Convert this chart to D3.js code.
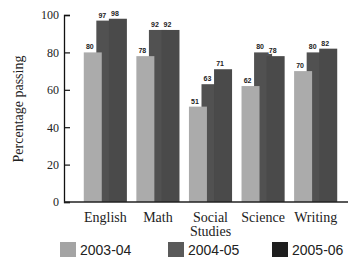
<!DOCTYPE html>
<html>
<head>
<meta charset="utf-8">
<script src="https://cdn.jsdelivr.net/npm/d3@7"></script>
<style>
  body { margin: 0; background: #fff; }
  svg { display: block; }
</style>
</head>
<body>
<div id="chart"></div>
<script>
// data
const subjects = ["English", "Math", "Social Studies", "Science", "Writing"];
const years = ["2003-04", "2004-05", "2005-06"];
const pass0304 = [80, 78, 51, 62, 70];
const pass0405 = [97, 92, 63, 80, 80];
const pass0506 = [98, 92, 71, 78, 82];
const yTicks = [0, 20, 40, 60, 80, 100];

const barColors = ["#ababab", "#515151", "#4a4a4a"];
const swatchColors = ["#a4a4a4", "#5a5a5a", "#1e1e1e"];

const width = 348, height = 264;
const serif = "'Liberation Serif', 'DejaVu Serif', serif";
const sans = "'Liberation Sans', Arial, sans-serif";

const series = [pass0304, pass0405, pass0506];
let rows = [];
subjects.forEach((s, i) => {
    years.forEach((yr, j) => {
        rows.push({ subject: s, year: yr, k: j, value: series[j][i] });
    });
});

const svg = d3.select("#chart").append("svg")
    .attr("width", width)
    .attr("height", height);

const x = d3.scaleBand()
    .domain(subjects)
    .range([68, 353])
    .paddingInner(0.18)
    .paddingOuter(0.3);

const y = d3.scaleLinear()
    .domain([0, 100])
    .range([202, 15]);

// bars overlap a little inside each group
const barW = 18;
const xs = d3.scalePoint()
    .domain(years)
    .range([0, x.bandwidth() - barW]);

// draw middle series first so the outer ones sit over it
const drawOrder = [1, 2, 0];
let bars = svg.append("g");
drawOrder.forEach(k => {
    bars.selectAll(".bar-" + k)
        .data(rows.filter(d => d.k === k))
        .enter().append("rect")
        .attr("class", "bar-" + k)
        .attr("x", d => x(d.subject) + xs(d.year))
        .attr("y", d => y(d.value))
        .attr("width", barW)
        .attr("height", d => y(0) - y(d.value))
        .attr("fill", barColors[k]);
});

// value labels
svg.append("g").selectAll("text")
    .data(rows)
    .enter().append("text")
    .attr("x", d => x(d.subject) + xs(d.year) + barW / 2 - 3)
    .attr("y", d => y(d.value) - 3)
    .attr("text-anchor", "middle")
    .attr("font-family", sans)
    .attr("font-size", 7)
    .attr("font-weight", "bold")
    .attr("fill", "#222")
    .attr("stroke", "#fff")
    .attr("stroke-width", 2)
    .attr("paint-order", "stroke")
    .text(d => d.value);

// y axis, ticks pointing inward
let yAxis = svg.append("g")
    .attr("transform", "translate(64,0)")
    .call(d3.axisLeft(y).tickValues(yTicks).tickSize(-6).tickPadding(5));
yAxis.select(".domain").attr("stroke", "#111").attr("stroke-width", 1.3);
yAxis.selectAll(".tick line").attr("stroke", "#111").attr("stroke-width", 1.2);
yAxis.selectAll(".tick text")
    .attr("font-family", serif)
    .attr("font-size", 12)
    .attr("fill", "#222");

// baseline
svg.append("line")
    .attr("x1", 64).attr("x2", 350)
    .attr("y1", y(0)).attr("y2", y(0))
    .attr("stroke", "#222")
    .attr("stroke-width", 1.3);

// category labels
let cat = svg.append("g").selectAll("text")
    .data(subjects)
    .enter().append("text")
    .attr("x", d => x(d) + x.bandwidth() / 2)
    .attr("y", 222)
    .attr("text-anchor", "middle")
    .attr("font-family", serif)
    .attr("font-size", 14)
    .attr("fill", "#222");
cat.each(function(d) {
    let words = d.split(" ");
    let t = d3.select(this);
    words.forEach((w, i) => {
        t.append("tspan")
            .attr("x", x(d) + x.bandwidth() / 2)
            .attr("dy", i === 0 ? 0 : 14)
            .text(w);
    });
});

// y title
svg.append("text")
    .attr("transform", "translate(23,109) rotate(-90)")
    .attr("text-anchor", "middle")
    .attr("font-family", serif)
    .attr("font-size", 14)
    .attr("fill", "#222")
    .text("Percentage passing");

// legend
const legendX = [60, 168, 272];
let legend = svg.append("g").selectAll("g")
    .data(years)
    .enter().append("g")
    .attr("transform", (d, i) => "translate(" + legendX[i] + ",242)");
legend.append("rect")
    .attr("width", 16)
    .attr("height", 15)
    .attr("fill", (d, i) => swatchColors[i]);
legend.append("text")
    .attr("x", 20)
    .attr("y", 13)
    .attr("font-family", sans)
    .attr("font-size", 14)
    .attr("fill", "#222")
    .text(d => d);
</script>
</body>
</html>
